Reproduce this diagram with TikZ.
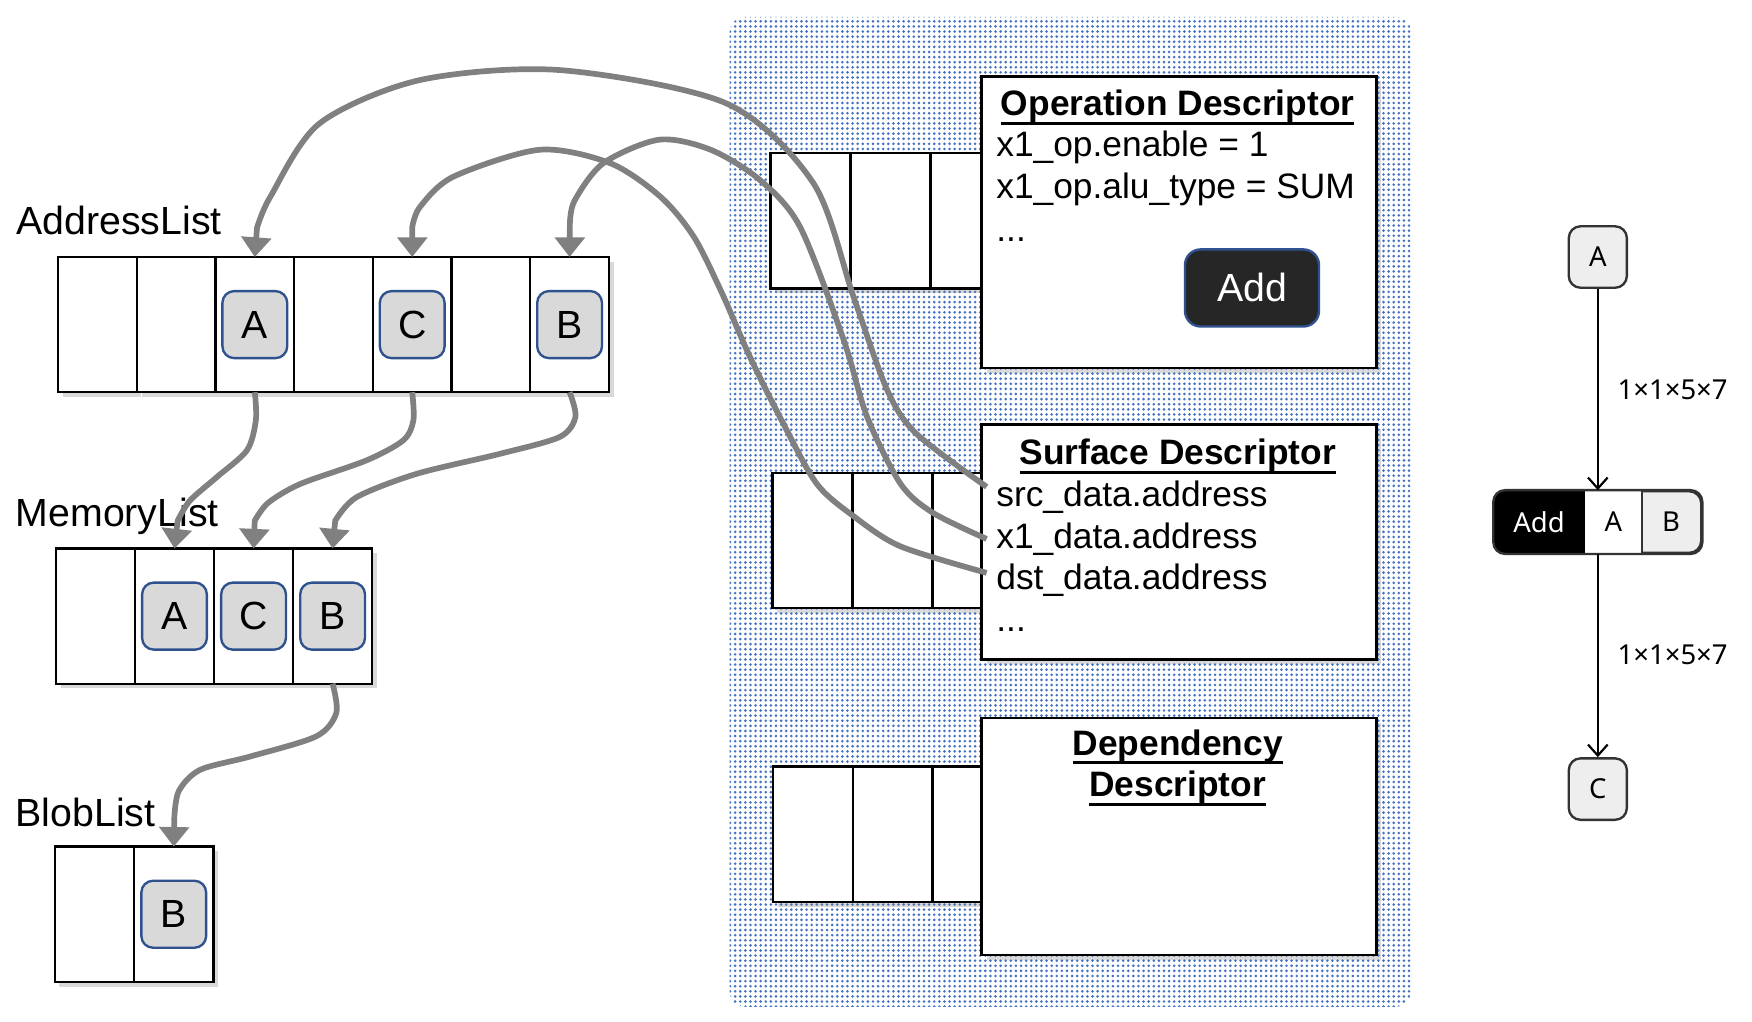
\documentclass[tikz,border=0pt]{standalone}
\usepackage{fontspec}
\setmainfont{Liberation Sans}
\newfontfamily\graphfont{Noto Sans}
\usetikzlibrary{shapes,arrows.meta,positioning,fit,backgrounds,calc,shadows,patterns.meta}

\definecolor{linkgray}{HTML}{808080}
\definecolor{itemfill}{HTML}{D9D9D9}
\definecolor{itemdraw}{HTML}{2F528F}
\definecolor{dotblue}{HTML}{4472C4}
\definecolor{btnfill}{HTML}{262626}
\definecolor{nodefill}{HTML}{EEEEEE}
\definecolor{nodedraw}{HTML}{333333}

\tikzdeclarepattern{
  name=finedots,
  type=uncolored,
  bottom left={(-0.65pt,-0.65pt)},
  top right={(0.65pt,0.65pt)},
  tile size={(1.3pt,1.3pt)},
  code={\fill (0pt,0pt) circle (0.37pt);}
}

% 标题下划线
\newcommand{\titleline}[1]{\setbox0\hbox{#1}\rlap{\rule[-2.4pt]{\wd0}{0.75pt}}\box0}

\begin{document}
\begin{tikzpicture}[
    cell/.style={rectangle, draw, line width=0.6pt, fill=white, minimum width=0.704cm, minimum height=1.21cm, inner sep=0pt, outer sep=0pt, drop shadow={shadow xshift=1.2pt, shadow yshift=-1.2pt, opacity=0.3}},
    item/.style={rectangle, draw=itemdraw, fill=itemfill, line width=0.6pt, rounded corners=3pt, minimum width=0.58cm, minimum height=0.6cm, font=\fontsize{10}{12}\selectfont},
    desc/.style={rectangle, draw, line width=0.7pt, fill=white, minimum width=3.53cm, anchor=north west, drop shadow={shadow xshift=1.2pt, shadow yshift=-1.2pt, opacity=0.3}},
    panel/.style={rectangle, rounded corners=4pt, pattern=finedots, pattern color=dotblue, minimum width=6.10cm, minimum height=8.86cm},
    button/.style={rectangle, draw=itemdraw, fill=btnfill, line width=0.6pt, rounded corners=4pt, text=white, minimum width=1.2cm, minimum height=0.69cm, font=\fontsize{10}{12}\selectfont},
    listname/.style={anchor=base west, inner sep=0pt, font=\fontsize{10}{12}\selectfont},
    title/.style={anchor=base, inner sep=0pt, font=\fontsize{9}{11}\selectfont\bfseries},
    field/.style={anchor=base west, inner sep=0pt, font=\fontsize{9}{11}\selectfont},
    link/.style={draw=linkgray, line width=1.45pt, -{Triangle[width=7.5pt,length=5pt]}},
    gbox/.style={rectangle, draw=nodedraw, fill=nodefill, line width=0.6pt, rounded corners=3pt, minimum width=0.52cm, minimum height=0.55cm, font=\graphfont\fontsize{7}{8}\selectfont},
    gtext/.style={inner sep=0pt, font=\graphfont\fontsize{7}{8}\selectfont},
    gedge/.style={-{Straight Barb[length=2.8pt,width=5pt]}, line width=0.55pt},
    gdim/.style={anchor=west, inner sep=0pt, font=\graphfont\fontsize{7}{8}\selectfont}
]
    \useasboundingbox (0,0) rectangle (15.68,-9.146);

    % 描述符区域背景
    \node[panel] (panel) at (9.58,-4.58) {};

    % 描述符后面的数组
    \foreach \i in {1,2,3} {
        \node[cell, minimum width=0.715cm] (oparr\i) at ({7.2545+0.715*(\i-1)},-1.976) {};
        \node[cell, minimum width=0.715cm] (sfarr\i) at ({7.2725+0.715*(\i-1)},-4.837) {};
        \node[cell, minimum width=0.715cm] (dparr\i) at ({7.2745+0.715*(\i-1)},-7.466) {};
    }

    % 描述符
    \node[desc, minimum height=2.61cm] (opdesc) at (8.775,-0.671) {};
    \node[desc, minimum height=2.10cm] (sfdesc) at (8.775,-3.789) {};
    \node[desc, minimum height=2.12cm] (dpdesc) at (8.775,-6.414) {};

    \node[title] (optitle) at (10.54,-1.03) {\titleline{Operation Descriptor}};
    \node[field] (fen) at (8.91,-1.40) {x1\_op.enable = 1};
    \node[field] (falu) at (8.91,-1.775) {x1\_op.alu\_type = SUM};
    \node[field] (fopdots) at (8.91,-2.16) {...};
    \node[button] (addbtn) at (11.205,-2.577) {Add};

    \node[title] (sftitle) at (10.54,-4.16) {\titleline{Surface Descriptor}};
    \node[field] (fsrc) at (8.91,-4.53) {src\_data.address};
    \node[field] (fx1) at (8.91,-4.906) {x1\_data.address};
    \node[field] (fdst) at (8.91,-5.28) {dst\_data.address};
    \node[field] (fsfdots) at (8.91,-5.654) {...};

    \node[title] (dptitle1) at (10.54,-6.757) {\titleline{Dependency}};
    \node[title] (dptitle2) at (10.54,-7.13) {\titleline{Descriptor}};

    % AddressList
    \node[listname] (alname) at (0.14,-2.10) {AddressList};
    \foreach \i in {1,...,7}
        \node[cell] (al\i) at ({0.872+0.7043*(\i-1)},-2.905) {};
    \node[item] (alA) at (al3) {A};
    \node[item] (alC) at (al5) {C};
    \node[item] (alB) at (al7) {B};

    % MemoryList
    \node[listname] (mlname) at (0.134,-4.71) {MemoryList};
    \foreach \i in {1,...,4}
        \node[cell, minimum width=0.7075cm] (ml\i) at ({0.854+0.7075*(\i-1)},-5.514) {};
    \node[item] (mlA) at (ml2) {A};
    \node[item] (mlC) at (ml3) {C};
    \node[item] (mlB) at (ml4) {B};

    % BlobList
    \node[listname] (blname) at (0.134,-7.40) {BlobList};
    \foreach \i in {1,2}
        \node[cell, minimum width=0.71cm] (bl\i) at ({0.845+0.71*(\i-1)},-8.182) {};
    \node[item] (blB) at (bl2) {B};

    % 地址字段 -> AddressList
    \draw[link] plot[smooth] coordinates {([shift={(-0.08,0.09)}]fsrc.west) (8.20,-3.88) (7.94,-3.49) (7.64,-2.66) (7.28,-1.64) (6.50,-0.925) (5.01,-0.627) (3.76,-0.716) (2.86,-1.104) (2.42,-1.76) (2.30,-2.04)} -- (al3.north);
    \draw[link] plot[smooth] coordinates {([xshift=-0.08cm]fx1.west) (8.35,-4.59) (8.06,-4.33) (7.76,-3.73) (7.55,-3.04) (7.16,-2.03) (6.80,-1.61) (6.36,-1.34) (5.90,-1.25) (5.40,-1.46) (5.14,-1.80) (5.10,-2.02)} -- (al7.north);
    \draw[link] plot[smooth] coordinates {([shift={(-0.08,0.07)}]fdst.west) (8.06,-4.89) (7.64,-4.62) (7.31,-4.33) (7.01,-3.79) (6.71,-3.19) (6.46,-2.62) (6.21,-2.12) (5.91,-1.76) (5.46,-1.46) (4.83,-1.34) (4.06,-1.58) (3.76,-1.85) (3.69,-2.03)} -- (al5.north);

    % AddressList -> MemoryList -> BlobList
    \draw[link] plot[smooth] coordinates {(al3.south) (2.29,-3.76) (2.21,-4.03) (1.94,-4.27) (1.70,-4.48) (1.59,-4.66)} -- (ml2.north);
    \draw[link] plot[smooth] coordinates {(al5.south) (3.70,-3.76) (3.61,-3.94) (3.28,-4.12) (2.69,-4.33) (2.40,-4.50) (2.28,-4.66)} -- (ml3.north);
    \draw[link] plot[smooth] coordinates {(al7.south) (5.15,-3.73) (5.01,-3.91) (4.48,-4.06) (3.73,-4.24) (3.19,-4.45) (3.00,-4.66)} -- (ml4.north);
    \draw[link] plot[smooth] coordinates {(ml4.south) (3.01,-6.38) (2.83,-6.59) (2.24,-6.77) (1.79,-6.89) (1.60,-7.08) (1.56,-7.32)} -- (bl2.north);

    % 右侧的图
    \node[gbox] (gA) at (14.30,-2.30) {A};
    \node[gbox, minimum width=1.85cm] (gadd) at (14.30,-4.672) {};
    \begin{scope}
        \clip[rounded corners=3pt] (gadd.south west) rectangle (gadd.north east);
        \fill[black] (gadd.south west) rectangle ([xshift=0.82cm]gadd.north west);
        \fill[white] ([xshift=0.82cm]gadd.south west) rectangle ([xshift=1.33cm]gadd.north west);
    \end{scope}
    \draw[draw=nodedraw, line width=0.6pt] ([xshift=1.33cm]gadd.south west) -- ([xshift=1.33cm]gadd.north west);
    \draw[draw=nodedraw, line width=0.6pt, rounded corners=3pt] (gadd.south west) rectangle (gadd.north east);
    \node[gtext, text=white] (gop) at ([xshift=0.41cm]gadd.west) {Add};
    \node[gtext] (gin1) at ([xshift=1.075cm]gadd.west) {A};
    \node[gtext] (gin2) at ([xshift=1.59cm]gadd.west) {B};
    \node[gbox] (gC) at (14.30,-7.062) {C};

    \draw[gedge] (gA) -- (gadd);
    \draw[gedge] (gadd) -- (gC);
    \node[gdim] (gdim1) at (14.47,-3.486) {1×1×5×7};
    \node[gdim] (gdim2) at (14.47,-5.86) {1×1×5×7};
\end{tikzpicture}
\end{document}
